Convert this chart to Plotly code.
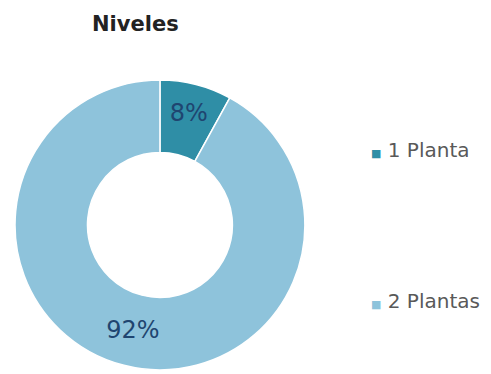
import plotly.graph_objects as go

# Share of homes by number of floors
categorias = ["1 Planta", "2 Plantas"]
porcentajes = [8, 92]
colores = ["#2f8ea6", "#8ec3db"]

fig = go.Figure(
    go.Pie(
        labels=categorias,
        values=porcentajes,
        hole=0.5,
        sort=False,
        direction="clockwise",
        rotation=0,
        marker=dict(colors=colores, line=dict(color="white", width=1.5)),
        texttemplate="%{value}%",
        textposition="inside",
        insidetextorientation="horizontal",
        textfont=dict(family="DejaVu Sans, sans-serif", size=24, color="#1f4570"),
        showlegend=False,
        hoverinfo="label+percent",
        domain=dict(x=[0.0305, 0.621], y=[0.011, 0.786]),
    )
)

# Title and legend entries laid out as text with coloured markers
leg_y = [150, 301]
annotations = [
    dict(
        text="<b>Niveles</b>",
        x=135 / 491, y=1 - 24 / 374,
        xref="paper", yref="paper", xanchor="center", yanchor="middle",
        showarrow=False,
        font=dict(family="DejaVu Sans, sans-serif", size=21, color="#222222"),
    )
]
for cat, col, ypx in zip(categorias, colores, leg_y):
    annotations.append(
        dict(
            text=f"<span style='font-size:11px;color:{col}'>■</span> {cat}",
            x=369 / 491, y=1 - ypx / 374,
            xref="paper", yref="paper", xanchor="left", yanchor="middle",
            showarrow=False,
            font=dict(family="DejaVu Sans, sans-serif", size=20, color="#595959"),
        )
    )

fig.update_layout(
    width=491, height=374,
    margin=dict(l=0, r=0, t=0, b=0),
    paper_bgcolor="white",
    plot_bgcolor="white",
    annotations=annotations,
)

fig.write_html("out.html")
